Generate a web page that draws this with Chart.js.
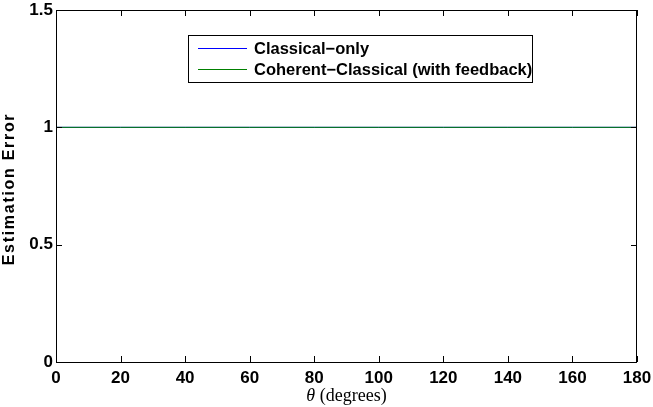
<!DOCTYPE html>
<html>
<head>
<meta charset="utf-8">
<script src="https://cdn.jsdelivr.net/npm/chart.js@4/dist/chart.umd.min.js"></script>
<style>
  html, body { margin: 0; padding: 0; background: #fff; }
  canvas { display: block; }
</style>
</head>
<body>
<canvas id="c" width="653" height="407"></canvas>
<script>
// Angle samples (degrees) and the estimation error of each scheme
const thetaDeg = [0, 20, 40, 60, 80, 100, 120, 140, 160, 180];
const classicalOnly = [1, 1, 1, 1, 1, 1, 1, 1, 1, 1];
const coherentClassical = [1, 1, 1, 1, 1, 1, 1, 1, 1, 1];

const seriesLabels = ['Classical\u2212only', 'Coherent\u2212Classical (with feedback)'];
const seriesColors = ['#0000ff', '#008000'];

const xTicks = [0, 20, 40, 60, 80, 100, 120, 140, 160, 180];
const yTicks = [0, 0.5, 1, 1.5];

const toPoints = (xs, ys) => xs.map((x, i) => ({ x: x, y: ys[i] }));

const sansBold = '"Liberation Sans", Arial, sans-serif';

// Box frame, inward tick marks on all four sides, axis titles and legend box
const framePlugin = {
  id: 'frame',
  afterDraw(chart) {
    const ctx = chart.ctx;
    const a = chart.chartArea;
    const xs = chart.scales.x, ys = chart.scales.y;
    ctx.save();
    ctx.strokeStyle = '#000';
    ctx.lineWidth = 1;
    ctx.strokeRect(a.left + 0.5, a.top + 0.5, a.right - a.left - 1, a.bottom - a.top);
    const tl = 6;
    ctx.beginPath();
    xTicks.forEach(v => {
      const px = Math.round(xs.getPixelForValue(v)) + 0.5;
      ctx.moveTo(px, a.bottom); ctx.lineTo(px, a.bottom - tl);
      ctx.moveTo(px, a.top); ctx.lineTo(px, a.top + tl);
    });
    yTicks.forEach(v => {
      const py = Math.round(ys.getPixelForValue(v)) + 0.5;
      ctx.moveTo(a.left, py); ctx.lineTo(a.left + tl, py);
      ctx.moveTo(a.right, py); ctx.lineTo(a.right - tl, py);
    });
    ctx.stroke();

    // y-axis title
    ctx.fillStyle = '#000';
    ctx.save();
    ctx.translate(14, (a.top + a.bottom) / 2 + 3);
    ctx.rotate(-Math.PI / 2);
    ctx.font = 'bold 16px ' + sansBold;
    ctx.letterSpacing = '1.7px';
    ctx.textAlign = 'center';
    ctx.textBaseline = 'alphabetic';
    ctx.fillText('Estimation Error', 0, 0);
    ctx.restore();

    // x-axis title: italic theta followed by "(degrees)"
    const thetaFont = 'italic 18px "Liberation Serif", "DejaVu Serif", serif';
    const restFont = '18px "Liberation Serif", "DejaVu Serif", serif';
    const rest = ' (degrees)';
    ctx.font = thetaFont;
    const wTheta = ctx.measureText('\u03b8').width;
    ctx.font = restFont;
    const wRest = ctx.measureText(rest).width;
    const cx = (a.left + a.right) / 2;
    const x0 = cx - (wTheta + wRest) / 2;
    ctx.textBaseline = 'alphabetic';
    ctx.textAlign = 'left';
    ctx.font = thetaFont;
    ctx.fillText('\u03b8', x0, 401);
    ctx.font = restFont;
    ctx.fillText(rest, x0 + wTheta, 401);

    // legend box
    const lx = 188.5, ly = 35.5, lw = 344, lh = 47;
    ctx.fillStyle = '#fff';
    ctx.fillRect(lx, ly, lw, lh);
    ctx.strokeStyle = '#000';
    ctx.strokeRect(lx, ly, lw, lh);
    const rows = [48.5, 69.5];
    ctx.font = 'bold 16.5px ' + sansBold;
    ctx.textBaseline = 'middle';
    ctx.textAlign = 'left';
    chart.data.datasets.forEach((ds, i) => {
      const y = rows[i];
      ctx.strokeStyle = ds.borderColor;
      ctx.beginPath();
      ctx.moveTo(198, y); ctx.lineTo(247, y);
      ctx.stroke();
      ctx.fillStyle = '#000';
      ctx.fillText(ds.label, 254, y + 1);
    });
    ctx.restore();
  }
};

new Chart(document.getElementById('c'), {
  type: 'line',
  data: {
    datasets: [
      {
        label: seriesLabels[0],
        data: toPoints(thetaDeg, classicalOnly),
        borderColor: seriesColors[0],
        borderWidth: 1,
        pointRadius: 0,
        fill: false,
        order: 1
      },
      {
        label: seriesLabels[1],
        data: toPoints(thetaDeg, coherentClassical),
        borderColor: seriesColors[1],
        borderWidth: 1,
        pointRadius: 0,
        fill: false,
        order: 0
      }
    ]
  },
  options: {
    responsive: false,
    devicePixelRatio: 1,
    animation: false,
    layout: { padding: { top: 10, right: 16, left: 0, bottom: 0 } },
    plugins: { legend: { display: false }, tooltip: { enabled: false } },
    scales: {
      x: {
        type: 'linear',
        min: 0, max: 180,
        afterBuildTicks: s => { s.ticks = xTicks.map(v => ({ value: v })); },
        afterFit: s => { s.height = 45; s.paddingLeft = 0; s.paddingRight = 0; },
        grid: { display: false, drawTicks: false },
        border: { display: false },
        ticks: {
          color: '#000',
          padding: 6,
          maxRotation: 0,
          font: { family: sansBold, size: 17, weight: 'bold' }
        }
      },
      y: {
        type: 'linear',
        min: 0, max: 1.5,
        afterBuildTicks: s => { s.ticks = yTicks.map(v => ({ value: v })); },
        afterFit: s => { s.width = 56; s.paddingTop = 0; s.paddingBottom = 0; },
        grid: { display: false, drawTicks: false },
        border: { display: false },
        ticks: {
          color: '#000',
          padding: 3,
          callback: v => String(v),
          font: { family: sansBold, size: 17, weight: 'bold' }
        }
      }
    }
  },
  plugins: [framePlugin]
});
</script>
</body>
</html>
